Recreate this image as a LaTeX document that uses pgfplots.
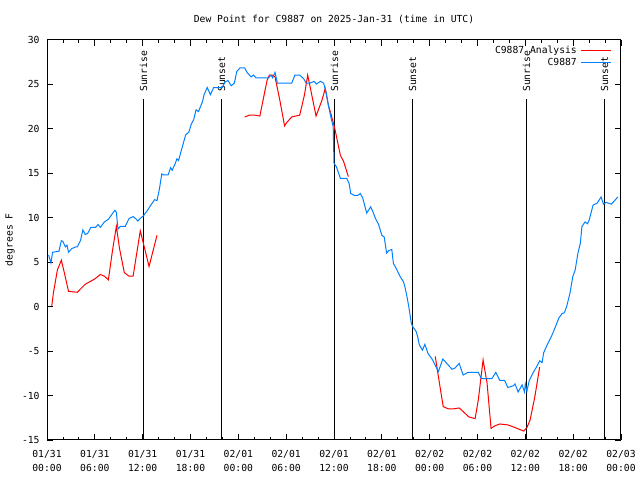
\documentclass[border=0pt]{standalone}
\usepackage{fontspec}
\setmainfont{DejaVu Sans Mono}
\usepackage{pgfplots}
\pgfplotsset{compat=1.18}
\definecolor{gred}{RGB}{255,0,0}
\definecolor{gblue}{RGB}{0,128,255}
\newcommand{\gfont}{\fontsize{9.7bp}{11bp}\selectfont}
\begin{document}
\gfont
\begin{tikzpicture}
\path[use as bounding box] (0,0) rectangle (640bp,480bp);
\begin{axis}[
  at={(47bp,40bp)}, anchor=south west,
  scale only axis, width=574bp, height=400.5bp,
  xmin=0, xmax=72, ymin=-15, ymax=30,
  xtick={0,6,...,72}, minor x tick num=2,
  xticklabels={{01/31\\00:00},{01/31\\06:00},{01/31\\12:00},{01/31\\18:00},{02/01\\00:00},{02/01\\06:00},{02/01\\12:00},{02/01\\18:00},{02/02\\00:00},{02/02\\06:00},{02/02\\12:00},{02/02\\18:00},{02/03\\00:00}},
  xticklabel style={align=center, font=\fontsize{9.7bp}{14.5bp}\selectfont, yshift=-6.5bp},
  ytick={-15,-10,...,30},
  yticklabels={-15,-10,-5,0,5,10,15,20,25,30},
  yticklabel style={xshift=-4bp, font=\gfont},
  tick align=inside,
  major tick length=6bp, minor tick length=3bp,
  tick style={black, line width=0.8bp},
  axis line style={line width=1bp},
  every axis y label/.style={at={(axis description cs:0,0.5)}, xshift=-37bp, anchor=center, rotate=90, font=\gfont},
  ylabel={degrees F},
  title={Dew Point for C9887 on 2025-Jan-31 (time in UTC)},
  title style={at={(axis description cs:0.5,1)}, anchor=base, yshift=11bp, font=\gfont},
  legend cell align=right,
  legend plot pos=right,
  legend image code/.code={\path (0bp,0bp); \draw[#1] (3bp,0bp) -- (33bp,0bp);},
  legend style={at={(rel axis cs:1,1)}, anchor=north east, xshift=-9bp, yshift=-5.5bp,
    draw=none, fill=none, inner sep=0pt, row sep=1.5bp,
    font=\gfont, nodes={inner sep=1bp}},
]
\addlegendimage{draw=gred, line width=1bp}
\addlegendentry{C9887 Analysis}
\addlegendimage{draw=gblue, line width=1bp}
\addlegendentry{C9887}
% sunrise / sunset lines
\addplot[black, line width=1.5bp, forget plot] coordinates {(12.105,23.3) (12.105,-15)};
\addplot[black, line width=1.5bp, forget plot] coordinates {(21.89,23.3) (21.89,-15)};
\addplot[black, line width=1.5bp, forget plot] coordinates {(36.06,23.3) (36.06,-15)};
\addplot[black, line width=1.5bp, forget plot] coordinates {(45.85,23.3) (45.85,-15)};
\addplot[black, line width=1.5bp, forget plot] coordinates {(60.15,23.3) (60.15,-15)};
\addplot[black, line width=1.5bp, forget plot] coordinates {(69.93,23.3) (69.93,-15)};
\node[rotate=90, anchor=west, inner sep=0pt, font=\gfont] at (axis cs:12.105,24.1) {Sunrise};
\node[rotate=90, anchor=west, inner sep=0pt, font=\gfont] at (axis cs:21.89,24.1) {Sunset};
\node[rotate=90, anchor=west, inner sep=0pt, font=\gfont] at (axis cs:36.06,24.1) {Sunrise};
\node[rotate=90, anchor=west, inner sep=0pt, font=\gfont] at (axis cs:45.85,24.1) {Sunset};
\node[rotate=90, anchor=west, inner sep=0pt, font=\gfont] at (axis cs:60.15,24.1) {Sunrise};
\node[rotate=90, anchor=west, inner sep=0pt, font=\gfont] at (axis cs:69.93,24.1) {Sunset};
% analysis (red)
\addplot[gred, line width=1bp, forget plot] coordinates {
(0.6,0.07) (0.8,1.5) (1.3,4.1) (1.8,5.2) (2.2,3.7) (2.7,1.7) (3.8,1.6) (4.8,2.5)
(5.4,2.8) (6.0,3.1) (6.7,3.6) (7.2,3.4) (7.7,3.0) (8.2,6.2) (8.7,9.0) (9.1,6.5)
(9.7,3.8) (10.3,3.4) (10.8,3.4) (11.7,8.5) (12.2,6.7) (12.8,4.5) (13.8,8.0)};
\addplot[gred, line width=1bp, forget plot] coordinates {
(24.8,21.3) (25.4,21.5) (26.1,21.5) (26.7,21.4) (27.6,25.4) (27.9,26.0) (28.3,26.0)
(28.6,25.8) (29.2,23.2) (29.8,20.3) (30.1,20.7) (30.7,21.3) (31.7,21.5) (32.3,23.8)
(32.7,26.0) (33.0,24.7) (33.75,21.4) (34.5,23.2) (34.9,24.5) (35.3,22.6) (35.6,21.7)
(36.1,20.0) (36.4,18.7) (36.8,17.0) (37.2,16.3) (37.8,14.6)};
\addplot[gred, line width=1bp, forget plot] coordinates {
(48.7,-5.6) (49.1,-7.9) (49.7,-11.25) (50.35,-11.5) (51.0,-11.5) (51.7,-11.4)
(52.2,-11.8) (52.9,-12.4) (53.7,-12.6) (54.1,-10.5) (54.7,-6.0) (55.2,-8.6)
(55.7,-13.7) (56.2,-13.4) (56.8,-13.2) (57.8,-13.3) (58.7,-13.6) (59.8,-14.0)
(60.2,-13.6) (60.6,-12.75) (61.2,-10.1) (61.8,-6.8)};
% observed (blue)
\addplot[gblue, line width=1bp, forget plot] coordinates {
(0.2,5.8) (0.5,4.9) (0.7,6.1) (1.5,6.2) (1.8,7.4) (2.0,7.3) (2.3,6.7) (2.5,6.9)
(2.7,6.1) (3.1,6.5) (3.6,6.7) (3.8,6.7) (4.2,7.4) (4.5,8.6) (4.8,8.1) (5.1,8.2)
(5.5,8.9) (6.1,8.9) (6.4,9.2) (6.7,8.9) (7.2,9.5) (7.7,9.8) (8.1,10.3) (8.5,10.8)
(8.7,10.6) (8.9,8.7) (9.2,9.0) (9.8,9.0) (10.3,9.9) (10.8,10.1) (11.1,9.9) (11.4,9.6)
(11.7,9.9) (12.1,10.2) (12.6,10.8) (13.1,11.5) (13.5,12.0) (13.8,11.9) (14.1,13.2)
(14.4,14.9) (14.6,14.8) (15.2,14.8) (15.5,15.6) (15.7,15.3) (16.1,16.1) (16.3,16.6)
(16.5,16.4) (16.9,17.7) (17.4,19.3) (17.8,19.6) (18.1,20.5) (18.4,21.0) (18.7,22.1)
(19.0,21.9) (19.5,23.0) (19.7,23.8) (20.1,24.6) (20.5,23.8) (20.9,24.6) (21.5,24.6)
(22.0,24.6) (22.3,25.2) (22.7,25.4) (23.1,24.8) (23.5,25.1) (23.8,26.4) (24.2,26.8)
(24.8,26.8) (25.1,26.3) (25.6,25.8) (25.9,26.0) (26.2,25.7) (27.8,25.7) (28.1,26.0)
(28.3,25.7) (28.6,26.3) (28.9,25.1) (30.7,25.1) (31.1,26.0) (31.7,26.0) (32.2,25.6)
(32.5,25.1) (33.0,25.1) (33.5,25.3) (33.8,25.0) (34.3,25.3) (34.7,25.1) (35.0,24.1)
(35.3,22.6) (35.6,21.3) (35.9,20.2) (36.0,16.1) (36.3,15.7) (36.8,14.4) (37.6,14.4)
(37.9,13.8) (38.1,12.7) (38.5,12.5) (39.0,12.5) (39.3,12.7) (39.6,12.2) (40.1,10.5)
(40.6,11.2) (40.9,10.6) (41.2,9.9) (41.6,9.2) (42.0,8.0) (42.3,7.8) (42.6,6.0)
(42.9,6.3) (43.25,6.4) (43.45,4.85) (43.9,4.1) (44.3,3.35) (44.7,2.8) (44.9,2.2)
(45.2,0.9) (45.45,-0.4) (45.7,-1.9) (45.9,-2.3) (46.3,-2.8) (46.5,-3.4) (46.7,-4.3)
(47.1,-4.9) (47.4,-4.25) (47.8,-5.3) (48.3,-5.9) (48.7,-6.6) (49.1,-7.3) (49.65,-5.9)
(50.15,-6.4) (50.8,-7.05) (51.2,-6.9) (51.7,-6.4) (52.2,-7.7) (52.8,-7.4) (54.1,-7.4)
(54.5,-8.1) (55.8,-8.1) (56.3,-7.4) (56.8,-8.3) (57.4,-8.3) (57.8,-9.1) (58.5,-8.9)
(58.7,-8.7) (59.1,-9.6) (59.6,-8.8) (59.9,-9.6) (60.0,-8.7) (60.2,-9.5) (60.5,-8.3)
(61.0,-7.4) (61.4,-6.8) (61.8,-6.1) (62.1,-6.3) (62.3,-5.2) (62.8,-4.2) (63.3,-3.3)
(63.7,-2.45) (64.2,-1.3) (64.6,-0.8) (64.9,-0.7) (65.2,0.05) (65.6,1.5) (65.95,3.35)
(66.25,4.1) (66.6,6.0) (66.9,7.1) (67.1,9.0) (67.5,9.5) (67.8,9.3) (68.0,9.7)
(68.5,11.4) (69.0,11.6) (69.5,12.3) (69.8,11.5) (70.1,11.7) (70.8,11.5) (71.6,12.3)};
\end{axis}
\end{tikzpicture}
\end{document}
